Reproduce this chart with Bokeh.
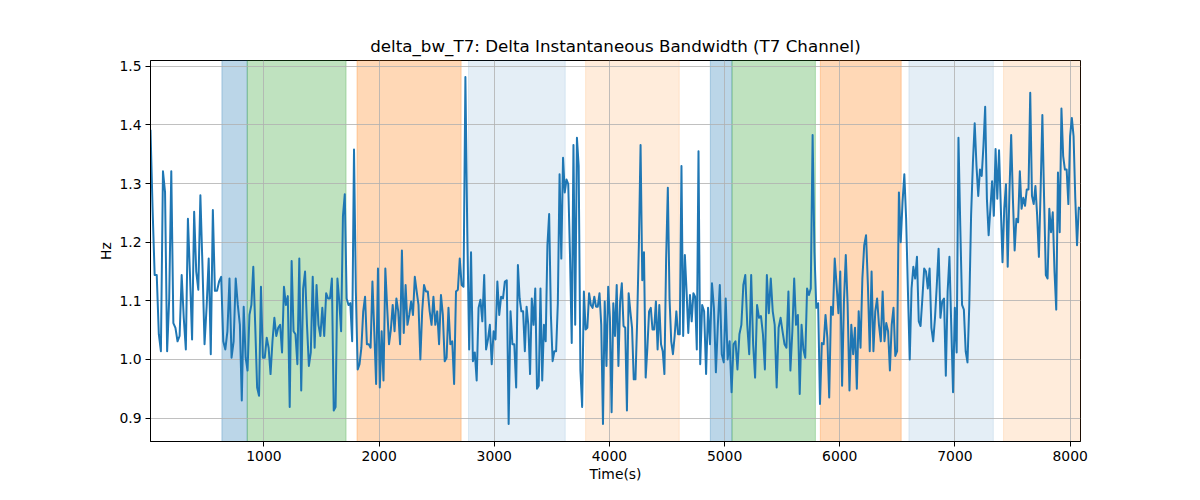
import numpy as np
from bokeh.embed import file_html
from bokeh.models import BoxAnnotation, ColumnDataSource, FixedTicker, NumeralTickFormatter, Range1d
from bokeh.plotting import figure
from bokeh.resources import INLINE

# readings of the trace, split in ten windows of the time axis
segment_edges = [15, 791, 1590, 2390, 3190, 3989, 4788, 5588, 6388, 7187, 8090]

bw_segments = [
    [1.392, 1.257, 1.144, 1.144, 1.043, 1.014, 1.321, 1.285, 1.014, 1.104, 1.321, 1.062, 1.054, 1.031, 1.040,
     1.144, 1.071, 1.017, 1.240, 1.144, 1.034, 1.252, 1.150, 1.119, 1.280, 1.160, 1.026, 1.090, 1.172, 1.009,
     1.255, 1.117, 1.117, 1.133, 1.141, 1.031, 1.017, 1.048, 1.138, 1.003, 1.031, 1.138, 1.093],
    [1.059, 0.930, 1.090, 1.003, 0.981, 1.076, 1.093, 1.158, 1.059, 0.952, 0.938, 1.124, 1.003, 1.003, 1.037,
     1.020, 0.975, 1.031, 1.071, 1.040, 1.054, 1.059, 1.012, 1.124, 1.093, 1.108, 0.919, 1.168, 1.048, 1.043,
     0.992, 1.172, 0.947, 1.121, 1.150, 1.059, 0.989, 1.012, 1.141, 1.020, 1.127, 1.059, 1.040, 1.088, 1.040,
     1.113, 1.104, 1.104],
    [1.138, 0.913, 0.919, 1.138, 1.099, 1.048, 1.245, 1.282, 1.104, 1.093, 1.096, 1.031, 1.358, 1.116, 0.983,
     0.992, 1.020, 1.082, 1.107, 1.026, 1.026, 1.020, 1.133, 1.048, 0.958, 1.155, 0.952, 1.048, 0.964, 1.155,
     1.088, 1.026, 1.051, 1.093, 1.048, 1.104, 1.082, 1.026, 1.186, 1.045, 1.127, 1.059, 1.076, 1.099, 1.076,
     1.141, 1.116, 1.093, 1.000, 1.082],
    [1.127, 1.116, 1.116, 1.082, 1.059, 1.107, 1.059, 1.082, 1.026, 1.110, 1.076, 0.997, 1.003, 1.088, 1.026,
     1.031, 0.958, 1.116, 1.119, 1.172, 1.127, 1.124, 1.482, 1.217, 1.017, 1.183, 0.997, 1.012, 0.964, 1.088,
     1.102, 1.065, 1.144, 1.017, 1.034, 1.059, 0.992, 1.048, 1.034, 1.133, 1.076, 1.107, 1.104, 1.133, 1.135,
     0.890, 1.082, 1.026, 1.026],
    [0.952, 1.161, 1.104, 1.082, 1.082, 1.014, 1.090, 1.059, 0.975, 1.104, 1.059, 1.121, 0.950, 0.955, 1.121,
     0.964, 1.059, 1.031, 1.195, 1.248, 1.076, 0.997, 1.014, 1.014, 1.096, 1.316, 1.172, 1.344, 1.285, 1.307,
     1.299, 1.178, 1.028, 1.366, 1.059, 1.378, 1.330, 0.981, 0.919, 1.116, 1.051, 1.054, 1.113, 1.093, 1.088,
     1.107, 1.090, 1.090, 1.113, 1.059, 0.890, 1.099, 0.989],
    [1.124, 1.071, 0.910, 1.096, 1.040, 1.127, 0.989, 1.099, 1.130, 1.057, 1.054, 0.913, 1.113, 1.082, 1.054,
     0.966, 0.966, 1.065, 1.195, 1.366, 1.135, 1.183, 0.969, 1.020, 1.082, 1.088, 1.051, 1.051, 1.099, 1.017,
     1.093, 1.026, 1.014, 0.975, 1.172, 1.293, 1.104, 1.031, 1.009, 1.040, 1.082, 1.043, 1.043, 1.330, 1.040,
     1.178, 1.116, 1.045, 1.110, 1.065, 1.113, 1.107, 1.017, 1.355],
    [0.992, 1.093, 1.082, 0.975, 1.088, 1.026, 1.130, 1.088, 0.978, 1.059, 1.127, 1.009, 0.995, 1.104, 1.000,
     1.031, 0.944, 1.026, 1.031, 0.983, 1.043, 1.059, 1.127, 1.144, 1.059, 1.009, 1.144, 1.026, 0.969, 1.093,
     1.071, 1.074, 1.043, 0.983, 1.144, 1.079, 1.138, 1.082, 1.059, 0.952, 1.054, 1.071, 1.048, 1.026, 1.020,
     1.116, 0.981],
    [1.048, 1.138, 1.059, 1.076, 0.941, 1.059, 1.017, 1.003, 1.121, 1.110, 1.121, 1.383, 1.183, 1.088, 1.096,
     0.924, 1.028, 1.026, 1.076, 1.037, 0.935, 1.090, 1.076, 1.172, 1.127, 1.079, 1.150, 0.955, 1.099, 1.178,
     1.093, 0.947, 1.059, 1.009, 1.054, 0.950, 1.082, 1.020, 1.138, 1.195, 1.212, 1.127, 1.014, 1.150, 1.014,
     1.082, 1.104, 1.059, 1.031, 1.116],
    [1.031, 1.062, 1.048, 0.981, 1.059, 1.088, 1.006, 1.014, 1.285, 1.200, 1.268, 1.316, 1.240, 1.116, 1.000,
     1.121, 1.158, 1.138, 1.175, 1.065, 1.057, 1.104, 1.155, 1.150, 1.121, 1.155, 1.054, 1.031, 1.071, 1.127,
     1.189, 1.071, 1.099, 1.104, 0.972, 1.116, 1.175, 1.059, 0.944, 1.088, 1.012, 1.378, 1.228, 1.093, 1.085,
     1.014, 0.995, 1.093, 1.245, 1.335, 1.403],
    [1.330, 1.279, 1.324, 1.313, 1.364, 1.431, 1.274, 1.212, 1.257, 1.304, 1.245, 1.359, 1.274, 1.357, 1.262,
     1.166, 1.257, 1.299, 1.158, 1.285, 1.383, 1.274, 1.186, 1.240, 1.234, 1.321, 1.257, 1.276, 1.262, 1.290,
     1.290, 1.455, 1.279, 1.265, 1.296, 1.245, 1.175, 1.290, 1.417, 1.274, 1.144, 1.138, 1.257, 1.217, 1.251,
     1.150, 1.085, 1.319, 1.217, 1.428, 1.347, 1.324, 1.324, 1.265, 1.381, 1.412, 1.381, 1.274, 1.195, 1.259,
     1.257],
]

# shaded stages
span_starts = [635, 855, 1808, 2776, 3793, 4876, 5064, 5831, 6600, 7422]
span_ends = [855, 1713, 2712, 3616, 4606, 5064, 5788, 6533, 7333, 8090]
span_colors = ["#1f77b4", "#2ca02c", "#ff7f0e", "#1f77b4", "#ff7f0e",
               "#1f77b4", "#2ca02c", "#ff7f0e", "#1f77b4", "#ff7f0e"]
span_alphas = [0.3, 0.3, 0.3, 0.12, 0.15, 0.3, 0.3, 0.3, 0.12, 0.15]

x_ticks = [1000, 2000, 3000, 4000, 5000, 6000, 7000, 8000]
y_ticks = [0.9, 1.0, 1.1, 1.2, 1.3, 1.4, 1.5]


def build_time(edges, segments):
    t = []
    for i, seg in enumerate(segments):
        last = i == len(segments) - 1
        t.extend(np.linspace(edges[i], edges[i + 1], len(seg), endpoint=last))
    return t


time_s = build_time(segment_edges, bw_segments)
bw = [v for seg in bw_segments for v in seg]
source = ColumnDataSource(dict(t=time_s, bw=bw))

p = figure(width=1184, height=484, output_backend="svg", toolbar_location=None,
           x_range=Range1d(15, 8090), y_range=Range1d(0.86, 1.51),
           title="delta_bw_T7: Delta Instantaneous Bandwidth (T7 Channel)",
           x_axis_label="Time(s)", y_axis_label="Hz",
           min_border_left=150, min_border_right=104, min_border_top=60, min_border_bottom=39)

for left, right, color, alpha in zip(span_starts, span_ends, span_colors, span_alphas):
    p.add_layout(BoxAnnotation(left=left, right=right, fill_color=color, fill_alpha=alpha,
                               line_color=color, line_alpha=alpha, line_width=1, level="image"))

p.line(x="t", y="bw", source=source, line_color="#1f77b4", line_width=2, line_join="round")

p.title.align = "center"
p.title.text_font = "DejaVu Sans"
p.title.text_font_size = "16.7px"
p.title.text_font_style = "normal"
p.title.text_color = "black"
p.title.standoff = 9

p.xaxis.ticker = FixedTicker(ticks=x_ticks)
p.yaxis.ticker = FixedTicker(ticks=y_ticks)
p.yaxis.formatter = NumeralTickFormatter(format="0.0")

for ax in (p.xaxis, p.yaxis):
    ax.axis_line_color = "black"
    ax.major_tick_line_color = "black"
    ax.major_tick_out = 5
    ax.major_tick_in = 0
    ax.minor_tick_line_color = None
    ax.major_label_standoff = 4
    ax.major_label_text_font = "DejaVu Sans"
    ax.major_label_text_font_size = "13.9px"
    ax.major_label_text_color = "black"
    ax.axis_label_text_font = "DejaVu Sans"
    ax.axis_label_text_font_size = "13.9px"
    ax.axis_label_text_font_style = "normal"
    ax.axis_label_text_color = "black"
    ax.axis_label_standoff = 2

p.grid.grid_line_color = "#b0b0b0"
p.grid.grid_line_width = 0.8
p.outline_line_color = "black"
p.outline_line_width = 1
p.outline_line_alpha = 1

open("out.html", "w").write(file_html(p, INLINE))
